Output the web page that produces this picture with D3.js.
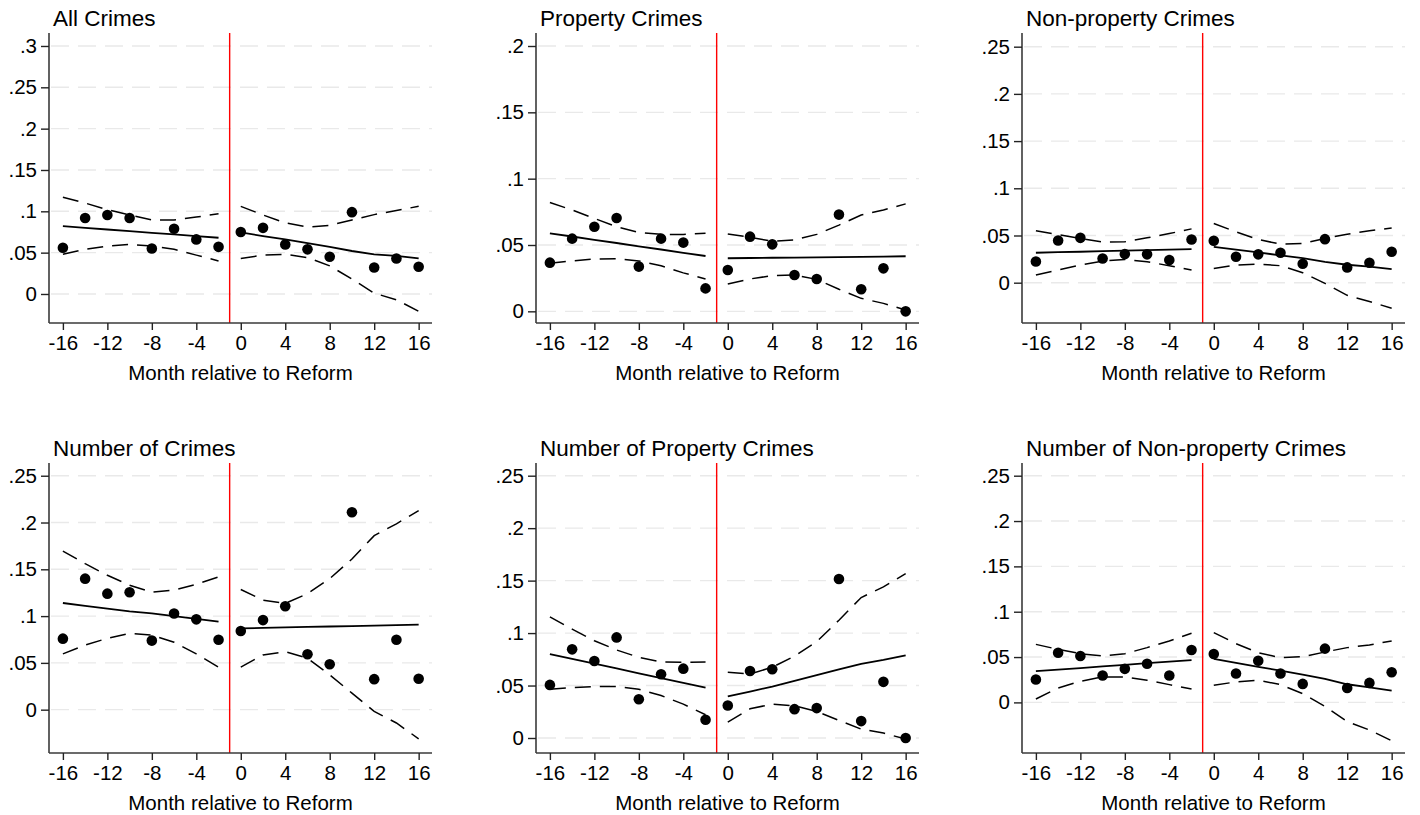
<!DOCTYPE html>
<html>
<head>
<meta charset="utf-8">
<script src="https://cdn.jsdelivr.net/npm/d3@7"></script>
<style>
  html, body { margin: 0; padding: 0; background: #fff; }
  svg { display: block; }
  text { font-family: "Liberation Sans", Arial, sans-serif; fill: #000; }
</style>
</head>
<body>
<svg id="chart" width="1420" height="815"></svg>
<script>
// months shown on each side of the reform
const preMonths = [-16, -14, -12, -10, -8, -6, -4, -2]
const postMonths = [0, 2, 4, 6, 8, 10, 12, 14, 16]
const xTicks = [-16, -12, -8, -4, 0, 4, 8, 12, 16]
const reformAt = -1

const titles = [
    "All Crimes", "Property Crimes", "Non-property Crimes",
    "Number of Crimes", "Number of Property Crimes", "Number of Non-property Crimes"
]

const yTicks = [
    [0, .05, .1, .15, .2, .25, .3],
    [0, .05, .1, .15, .2],
    [0, .05, .1, .15, .2, .25],
    [0, .05, .1, .15, .2, .25],
    [0, .05, .1, .15, .2, .25],
    [0, .05, .1, .15, .2, .25]
]
const yRanges = [
    [-.0351, .3157], [-.0088, .2098], [-.0427, .2645],
    [-.0463, .2636], [-.0143, .2621], [-.0558, .264]
]

// monthly estimates (dots), pre months then post months
const points = [
    [.056, .092, .0956, .092, .055, .079, .066, .057,
     .075, .080, .060, .054, .045, .099, .032, .043, .033],
    [.0367, .0548, .0638, .0704, .0337, .0548, .0518, .0173,
     .0312, .0563, .0505, .0274, .0244, .0729, .0166, .0324, 0],
    [.0225, .0447, .0475, .0257, .0303, .030, .024, .0458,
     .0444, .0275, .030, .0317, .020, .0461, .0162, .0211, .0327],
    [.0759, .140, .124, .1255, .0738, .1028, .0965, .0748,
     .084, .0957, .1106, .0592, .0486, .211, .0326, .0748, .033],
    [.0506, .0845, .0734, .0959, .037, .0608, .0661, .0174,
     .031, .0639, .0655, .0275, .0285, .1516, .0161, .0535, 0],
    [.0252, .0548, .0511, .0296, .037, .0426, .0296, .0578,
     .0533, .0319, .0459, .0319, .0204, .0593, .0159, .0215, .0333]
]

// fitted line
const fits = [
    [.082, .080, .078, .076, .074, .072, .070, .068,
     .0746, .070, .066, .0615, .057, .052, .048, .046, .043],
    [.0588, .0564, .0539, .0515, .0490, .0466, .0441, .0417,
     .040, .0402, .0404, .0405, .0407, .0409, .0411, .0413, .0415],
    [.0317, .0323, .0328, .0334, .0339, .0345, .0350, .0356,
     .038, .035, .032, .029, .026, .022, .019, .017, .0144],
    [.114, .111, .108, .105, .103, .100, .097, .094,
     .0869, .0874, .0879, .0884, .0889, .0893, .0898, .0903, .0908],
    [.080, .0754, .0709, .0663, .0617, .0571, .0526, .048,
     .0396, .0443, .049, .0544, .060, .0655, .0706, .0744, .0788],
    [.0344, .0362, .0379, .0397, .0414, .0432, .0449, .0467,
     .0481, .0437, .0393, .035, .0306, .026, .020, .0165, .013]
]

// upper confidence band
const uppers = [
    [.117, .110, .102, .0956, .0895, .0895, .093, .097,
     .106, .0956, .086, .081, .083, .0895, .096, .101, .106],
    [.082, .0764, .070, .0638, .0595, .058, .058, .0588,
     .0583, .0558, .0528, .0538, .058, .065, .0726, .0764, .081],
    [.055, .051, .0468, .043, .0433, .0475, .052, .057,
     .0627, .0539, .0458, .0408, .0415, .0468, .0514, .055, .058],
    [.1695, .156, .1436, .133, .1255, .1277, .134, .1418,
     .1284, .117, .1135, .124, .140, .161, .186, .1986, .2128],
    [.1155, .1038, .0927, .0839, .0769, .0725, .0722, .0725,
     .0627, .061, .0674, .078, .0918, .1123, .1339, .144, .1566],
    [.064, .0585, .0537, .0511, .0537, .0604, .0678, .0763,
     .077, .0648, .0548, .0493, .0504, .0556, .0604, .0633, .0678]
]

// lower confidence band
const lowers = [
    [.048, .054, .058, .060, .058, .054, .047, .040,
     .043, .047, .048, .044, .034, .018, .001, -.007, -.021],
    [.0362, .038, .0394, .0397, .038, .0344, .029, .0244,
     .0206, .0244, .0269, .0274, .0241, .0166, .0098, .006, .001],
    [.0081, .0134, .0187, .0229, .0246, .0222, .018, .0134,
     .0151, .0187, .0197, .018, .0106, -.0007, -.0134, -.020, -.027],
    [.0596, .069, .0762, .0816, .0798, .072, .0596, .0454,
     .0454, .0585, .062, .055, .0372, .0177, -.0018, -.0142, -.0312],
    [.0465, .048, .049, .049, .0465, .0405, .0323, .0222,
     .0152, .0278, .0323, .0307, .0253, .0168, .0085, .0047, -.001],
    [.0037, .0159, .0233, .0281, .0281, .0244, .0196, .0148,
     .0189, .0226, .0244, .0196, .0096, -.0044, -.0211, -.0304, -.0422]
]

const colLeft = [49, 536, 1022]
const rowTop = [33, 463]
const plotW = 383
const plotH = 290

// Stata style labels: ".05", "-16"
const yFmt = d => d === 0 ? "0" : String(d).replace(/^0/, "")
const xFmt = d => String(d)

const svg = d3.select("#chart")
const months = preMonths.concat(postMonths)

titles.forEach((title, i) => {
    const left = colLeft[i % 3]
    const top = rowTop[Math.floor(i / 3)]

    const x = d3.scaleLinear().domain([-17.25, 17.2]).range([0, plotW])
    const y = d3.scaleLinear().domain(yRanges[i]).range([plotH, 0])

    const g = svg.append("g").attr("transform", `translate(${left},${top})`)

    // dashed horizontal grid
    g.append("g")
        .selectAll("line")
        .data(yTicks[i])
        .enter().append("line")
        .attr("x1", 2)
        .attr("x2", plotW)
        .attr("y1", d => y(d))
        .attr("y2", d => y(d))
        .attr("stroke", "#e9e9e9")
        .attr("stroke-width", 1.4)
        .attr("stroke-dasharray", "18,9")

    // reform marker
    g.append("line")
        .attr("x1", x(reformAt))
        .attr("x2", x(reformAt))
        .attr("y1", 0)
        .attr("y2", plotH)
        .attr("stroke", "#ff0000")
        .attr("stroke-width", 1.4)

    const rows = months.map((m, k) => ({
        m: m,
        p: points[i][k],
        fit: fits[i][k],
        lo: lowers[i][k],
        hi: uppers[i][k]
    }))
    const segments = [rows.slice(0, preMonths.length), rows.slice(preMonths.length)]

    const line = key => d3.line().x(d => x(d.m)).y(d => y(d[key]))

    segments.forEach(seg => {
        g.append("path")
            .datum(seg)
            .attr("d", line("fit"))
            .attr("fill", "none")
            .attr("stroke", "#000")
            .attr("stroke-width", 1.8)

        ;["lo", "hi"].forEach(key => {
            g.append("path")
                .datum(seg)
                .attr("d", line(key))
                .attr("fill", "none")
                .attr("stroke", "#000")
                .attr("stroke-width", 1.5)
                .attr("stroke-dasharray", "16,9")
        })
    })

    g.append("g")
        .selectAll("circle")
        .data(rows)
        .enter().append("circle")
        .attr("cx", d => x(d.m))
        .attr("cy", d => y(d.p))
        .attr("r", 5.3)
        .attr("fill", "#000")

    // axes
    const yAxis = g.append("g")
        .call(d3.axisLeft(y).tickValues(yTicks[i]).tickFormat(yFmt).tickSize(8).tickPadding(4))
    const xAxis = g.append("g")
        .attr("transform", `translate(0,${plotH})`)
        .call(d3.axisBottom(x).tickValues(xTicks).tickFormat(xFmt).tickSize(7).tickPadding(5))

    ;[yAxis, xAxis].forEach(ax => {
        ax.select(".domain").attr("stroke", "#3a3a3a").attr("stroke-width", 1.6)
        ax.selectAll(".tick line").attr("stroke", "#222").attr("stroke-width", 1.4)
        ax.selectAll(".tick text")
            .attr("fill", "#000")
            .style("font-size", "20.5px")
            .style("font-family", '"Liberation Sans", Arial, sans-serif')
    })
    // no end ticks on the domain path
    yAxis.select(".domain").attr("d", `M0,0V${plotH}`)
    xAxis.select(".domain").attr("d", `M0,0H${plotW}`)

    g.append("text")
        .attr("x", 4)
        .attr("y", -7)
        .style("font-size", "22.5px")
        .text(title)

    g.append("text")
        .attr("x", plotW / 2)
        .attr("y", plotH + 57)
        .attr("text-anchor", "middle")
        .style("font-size", "20.5px")
        .text("Month relative to Reform")
})
</script>
</body>
</html>
